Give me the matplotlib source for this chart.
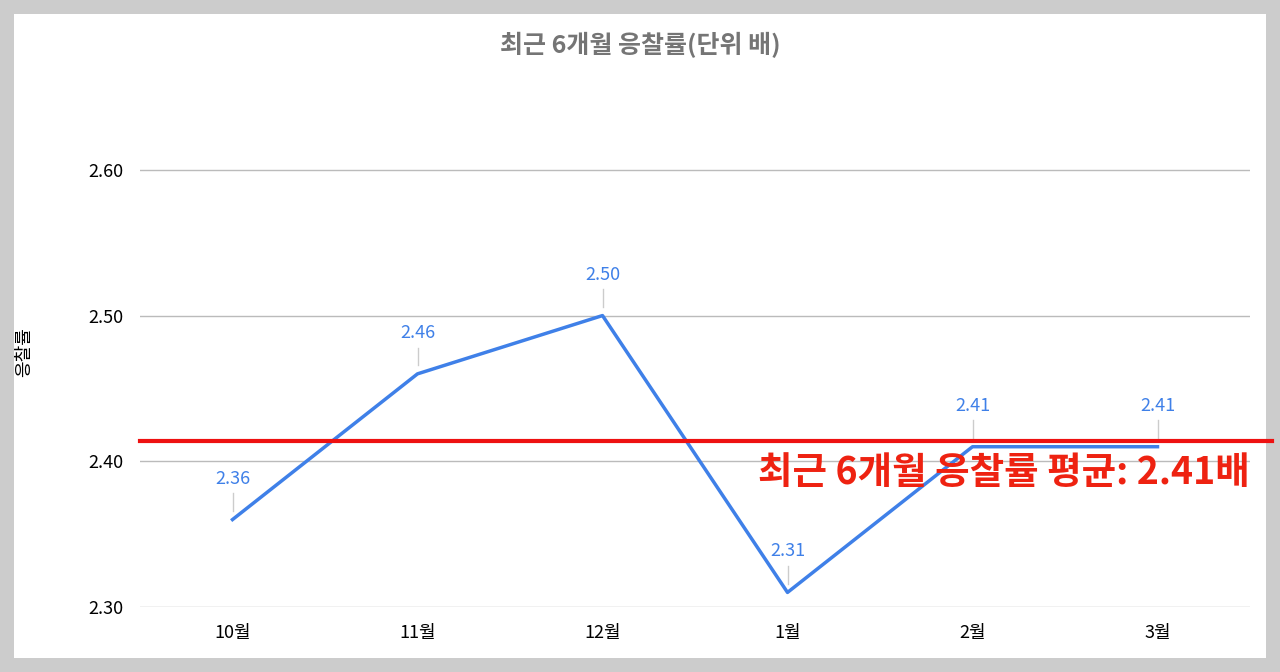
import matplotlib
matplotlib.use("Agg")
import matplotlib.pyplot as plt
from matplotlib.patches import Rectangle

plt.rcParams['font.family'] = ['Noto Sans CJK KR', 'DejaVu Sans']

months = ['10월', '11월', '12월', '1월', '2월', '3월']
rates = [2.36, 2.46, 2.50, 2.31, 2.41, 2.41]
avg = 2.414
yticks = [2.30, 2.40, 2.50, 2.60]

fig = plt.figure(figsize=(12.8, 6.72), dpi=100, facecolor='#cccccc')
fig.patches.append(Rectangle((14/1280, 14/672), 1252/1280, 644/672, transform=fig.transFigure,
                             facecolor='white', edgecolor='none', zorder=-10))
ax = fig.add_axes([140/1280, 65/672, 1110/1280, (607-97)/672])
ax.set_zorder(1)
ax.set_facecolor('none')
x = list(range(len(months)))
ax.plot(x, rates, color='#3f80e8', lw=2.5, zorder=3)
for xi, v in zip(x, rates):
    ax.plot([xi, xi], [v + 0.006, v + 0.018], color='#cccccc', lw=1, zorder=2)
    ax.text(xi, v + 0.022, f'{v:.2f}', color='#3f80e8', fontsize=13, ha='center', va='bottom')
ax.set_xlim(-0.5, 5.5)
ax.set_ylim(2.30, 2.65)
ax.set_yticks(yticks)
ax.set_yticklabels([f'{t:.2f}' for t in yticks])
ax.set_xticks(x)
ax.set_xticklabels(months)
ax.grid(axis='y', color='#bbbbbb', lw=1)
ax.set_axisbelow(True)
for s in ax.spines.values():
    s.set_visible(False)
ax.tick_params(length=0, labelsize=13, pad=12)
ax.set_ylabel('응찰률', fontsize=13, labelpad=40)
ax.axhline(avg, xmin=0, xmax=1132/1110, color='#ee1111', lw=3, clip_on=False, zorder=4)
ax.text(5.5, avg - 0.008, '최근 6개월 응찰률 평균: 2.41배', color='#ee2211', fontsize=27,
        fontweight='bold', ha='right', va='top', zorder=5)
fig.text(0.5, 1 - 45/672, '최근 6개월 응찰률(단위 배)', color='#757575', fontsize=18,
         fontweight='bold', ha='center', va='center')
fig.savefig('out.png', dpi=100, facecolor=fig.get_facecolor())
